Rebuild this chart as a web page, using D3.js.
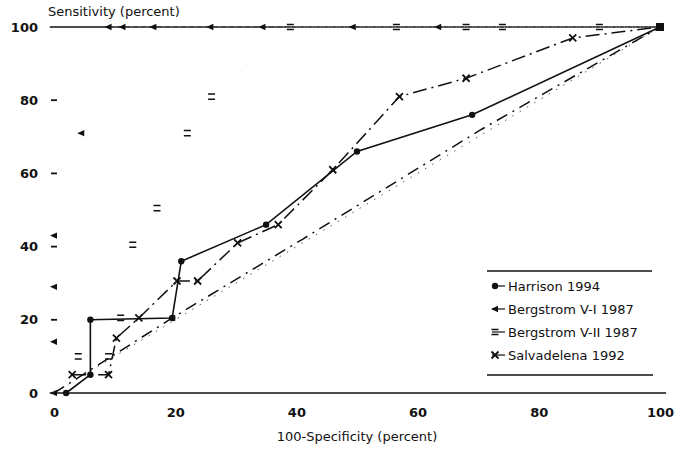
<!DOCTYPE html>
<html><head><meta charset="utf-8">
<script src="https://cdn.jsdelivr.net/npm/d3@7"></script>
<style>body{margin:0;background:#fff}svg{display:block}text{font-family:"DejaVu Sans",Verdana,sans-serif;fill:#111}</style>
</head><body><svg id="c" width="680" height="452"></svg>
<script>
// ---- data (percent) ----
const seriesNames = ["Harrison 1994", "Bergstrom V-I 1987", "Bergstrom V-II 1987", "Salvadelena 1992"];
const xTicks = [0, 20, 40, 60, 80, 100];
const yTicks = [0, 20, 40, 60, 80, 100];

const harrisonX = [2, 6, 6, 19.5, 21, 35, 50, 69, 100];
const harrisonY = [0, 5, 20, 20.5, 36, 46, 66, 76, 100];

const bergstromV1X = [0, 0, 0, 4.5, 9, 11.3, 16.4, 25.8, 34.4, 49.3, 63.4, 100];
const bergstromV1Y = [14, 29, 43, 71, 100, 100, 100, 100, 100, 100, 100, 100];
const bergstromV1LowX = [0, 19.5, 41, 70.5, 100];
const bergstromV1LowY = [0, 20.5, 42, 72, 100];

const bergstromV2X = [4, 9, 11, 13, 17, 22, 26, 39, 56.5, 68, 74, 90, 100];
const bergstromV2Y = [10, 10, 20.5, 40.5, 50.5, 71, 81, 100, 100, 100, 100, 100, 100];

const salvadelenaX = [3, 9, 10.3, 14, 20.3, 23.7, 30.3, 37, 46, 57, 68, 85.6, 100];
const salvadelenaY = [5, 5, 15, 20.5, 30.6, 30.6, 41, 46, 61, 81, 86, 97, 100];

const diagX = [0, 100];
const diagY = [0, 100];

// ---- drawing ----
const svg = d3.select("#c");
const x = d3.scaleLinear().domain([0, 100]).range([54, 660]);
const y = d3.scaleLinear().domain([0, 100]).range([393, 27]);
const pts = (xs, ys) => xs.map((v, i) => [v, ys[i]]);
const line = d3.line().x(d => x(d[0])).y(d => y(d[1]));

// frame lines at 0 and 100 sensitivity
svg.append("line").attr("x1", x(-0.7)).attr("x2", x(101)).attr("y1", y(0)).attr("y2", y(0))
  .attr("stroke", "#111").attr("stroke-width", 1.6);
svg.append("line").attr("x1", x(-0.7)).attr("x2", x(100)).attr("y1", y(100)).attr("y2", y(100))
  .attr("stroke", "#111").attr("stroke-width", 1.6);

// y axis (no domain line, small ticks)
const yAxis = d3.axisLeft(y).tickValues(yTicks).tickSize(0).tickPadding(16).tickFormat(d3.format("d"));
const ya = svg.append("g").attr("transform", `translate(${x(0)},0)`).call(yAxis);
ya.select(".domain").remove();
ya.selectAll("text").attr("font-size", 13).attr("font-weight", "bold").attr("fill", "#111")
  .attr("font-family", "'DejaVu Sans',sans-serif");
svg.selectAll(".ytk").data(yTicks.filter(d => d > 0 && d < 100)).enter().append("line")
  .attr("x1", x(0) - 3).attr("x2", x(0) + 3).attr("y1", d => y(d)).attr("y2", d => y(d))
  .attr("stroke", "#111").attr("stroke-width", 1.8);

// x axis labels
const xAxis = d3.axisBottom(x).tickValues(xTicks).tickSize(0).tickPadding(15).tickFormat(d3.format("d"));
const xa = svg.append("g").attr("transform", `translate(0,${y(0)})`).call(xAxis);
xa.select(".domain").remove();
xa.selectAll("text").attr("font-size", 13).attr("font-weight", "bold").attr("fill", "#111")
  .attr("font-family", "'DejaVu Sans',sans-serif");

// titles
svg.append("text").attr("x", 48).attr("y", 16).attr("font-size", 13).text("Sensitivity (percent)");
svg.append("text").attr("x", 357).attr("y", 441).attr("font-size", 13).attr("text-anchor", "middle")
  .text("100-Specificity (percent)");

// chance diagonal
svg.append("path").attr("d", line(pts(diagX, diagY))).attr("fill", "none")
  .attr("stroke", "#555").attr("stroke-width", 1).attr("stroke-dasharray", "1.5,7");

// series lines
const faint = {stroke: "#e2e2e2", width: 0.7, dash: "1,7"};
const lines = [
  {d: pts(harrisonX, harrisonY), stroke: "#111", width: 1.6, dash: null},
  {d: pts(bergstromV1X, bergstromV1Y), ...faint},
  {d: pts(bergstromV1LowX, bergstromV1LowY), stroke: "#111", width: 1.5, dash: "12,6,2,6"},
  {d: pts(bergstromV2X, bergstromV2Y), ...faint},
  {d: pts(salvadelenaX, salvadelenaY), stroke: "#111", width: 1.5, dash: "14,5,2,5"}
];
lines.forEach(l => {
  svg.append("path").attr("d", line(l.d)).attr("fill", "none").attr("stroke", l.stroke)
    .attr("stroke-width", l.width).attr("stroke-dasharray", l.dash);
});

// marker shapes
const markers = {
  circle: g => g.append("circle").attr("r", 3.2).attr("fill", "#111"),
  arrow: g => g.append("path").attr("d", "M-4,0L3,-3.2L3,3.2Z").attr("fill", "#111"),
  equal: g => g.append("path").attr("d", "M-3.5,-2.6H3.5M-3.5,2.6H3.5").attr("stroke", "#111").attr("stroke-width", 1.5),
  cross: g => g.append("path").attr("d", "M-3.5,-3.5L3.5,3.5M-3.5,3.5L3.5,-3.5").attr("stroke", "#111").attr("stroke-width", 1.8)
};
const markerSets = [
  {d: pts(harrisonX, harrisonY), m: "circle"},
  {d: pts(bergstromV1X, bergstromV1Y).concat(pts(bergstromV1LowX.slice(0, 2), bergstromV1LowY.slice(0, 2))), m: "arrow"},
  {d: pts(bergstromV2X, bergstromV2Y), m: "equal"},
  {d: pts(salvadelenaX, salvadelenaY), m: "cross"}
];
markerSets.forEach(s => {
  s.d.forEach(p => {
    const g = svg.append("g").attr("transform", `translate(${x(p[0])},${y(p[1])})`);
    markers[s.m](g);
  });
});
// end point
svg.append("rect").attr("x", x(100) - 4).attr("y", y(100) - 4).attr("width", 8).attr("height", 8).attr("fill", "#111");

// legend
const lg = svg.append("g");
lg.append("line").attr("x1", 487).attr("x2", 652).attr("y1", 271).attr("y2", 271).attr("stroke", "#111").attr("stroke-width", 1.3);
lg.append("line").attr("x1", 487).attr("x2", 653).attr("y1", 375).attr("y2", 375).attr("stroke", "#111").attr("stroke-width", 1.3);
const mkeys = ["circle", "arrow", "equal", "cross"];
seriesNames.forEach((n, i) => {
  const yy = 286 + i * 23;
  lg.append("line").attr("x1", 492).attr("x2", 505).attr("y1", yy).attr("y2", yy).attr("stroke", "#111").attr("stroke-width", 1.2);
  const g = lg.append("g").attr("transform", `translate(495,${yy})`);
  markers[mkeys[i]](g);
  lg.append("text").attr("x", 508).attr("y", yy + 4.5).attr("font-size", 13).text(n);
});
</script></body></html>
